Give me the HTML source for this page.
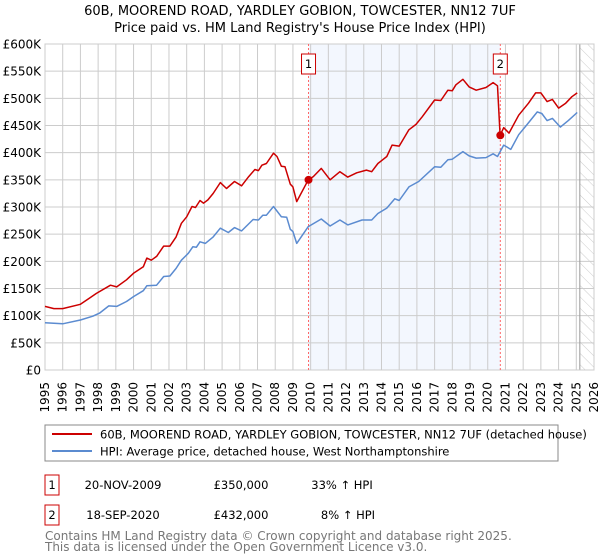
<!DOCTYPE html>
<html><head><meta charset="utf-8">
<style>
body{margin:0;background:#fff;}
svg{display:block;font-family:"DejaVu Sans","Liberation Sans",sans-serif;}
</style></head>
<body>
<svg id="chart" width="600" height="560" viewBox="0 0 600 560" xmlns="http://www.w3.org/2000/svg">
<defs>
<pattern id="hatch" width="8" height="8" patternUnits="userSpaceOnUse" patternTransform="rotate(-45)">
<line x1="0" y1="0" x2="0" y2="8" stroke="#ccc" stroke-width="1"/>
</pattern>
</defs>
<text x="300" y="15" text-anchor="middle" font-size="13" fill="#000">60B, MOOREND ROAD, YARDLEY GOBION, TOWCESTER, NN12 7UF</text>
<text x="300" y="32" text-anchor="middle" font-size="13" fill="#000">Price paid vs. HM Land Registry's House Price Index (HPI)</text>
<g id="plot"></g>
<g id="legend">
<rect x="45" y="425" width="513" height="36" fill="#fff" stroke="#888"/>
<line x1="52" y1="434" x2="92" y2="434" stroke="#cc0000" stroke-width="2"/>
<text x="100" y="438.5" font-size="11.5">60B, MOOREND ROAD, YARDLEY GOBION, TOWCESTER, NN12 7UF (detached house)</text>
<line x1="52" y1="451" x2="92" y2="451" stroke="#5b8bd0" stroke-width="2"/>
<text x="100" y="455.5" font-size="11.5">HPI: Average price, detached house, West Northamptonshire</text>
</g>
<g font-size="11.5">
<rect x="45" y="475" width="14" height="20" fill="#fff" stroke="#cc0000"/>
<text x="52" y="489" text-anchor="middle">1</text>
<text x="123" y="489" text-anchor="middle">20-NOV-2009</text>
<text x="241" y="489" text-anchor="middle">£350,000</text>
<text x="342" y="489" text-anchor="middle">33% ↑ HPI</text>
<rect x="45" y="505" width="14" height="20" fill="#fff" stroke="#cc0000"/>
<text x="52" y="519" text-anchor="middle">2</text>
<text x="123" y="519" text-anchor="middle">18-SEP-2020</text>
<text x="241" y="519" text-anchor="middle">£432,000</text>
<text x="348" y="519" text-anchor="middle">8% ↑ HPI</text>
</g>
<text x="45" y="540" font-size="12" fill="#777">Contains HM Land Registry data © Crown copyright and database right 2025.</text>
<text x="45" y="551" font-size="12" fill="#777">This data is licensed under the Open Government Licence v3.0.</text>
</svg>
<script>
const yTicks=[0,50,100,150,200,250,300,350,400,450,500,550,600];
const yTickLabels=["£0","£50K","£100K","£150K","£200K","£250K","£300K","£350K","£400K","£450K","£500K","£550K","£600K"];
const years=[1995,1996,1997,1998,1999,2000,2001,2002,2003,2004,2005,2006,2007,2008,2009,2010,2011,2012,2013,2014,2015,2016,2017,2018,2019,2020,2021,2022,2023,2024,2025,2026];
const propT=[1995.0,1995.5,1996.0,1997.0,1997.5,1997.9,1998.7,1999.05,1999.6,2000.0,2000.55,2000.75,2001.0,2001.3,2001.7,2002.05,2002.4,2002.7,2003.0,2003.3,2003.5,2003.75,2003.95,2004.2,2004.5,2004.9,2005.25,2005.7,2006.1,2006.5,2006.85,2007.05,2007.25,2007.5,2007.9,2008.1,2008.35,2008.55,2008.85,2009.0,2009.21,2009.87,2010.15,2010.6,2011.1,2011.65,2012.1,2012.6,2013.15,2013.45,2013.8,2014.3,2014.6,2015.0,2015.55,2015.95,2016.3,2017.0,2017.35,2017.75,2018.0,2018.2,2018.6,2018.95,2019.35,2019.9,2020.3,2020.55,2020.7,2020.9,2021.2,2021.75,2022.3,2022.7,2023.0,2023.35,2023.65,2024.0,2024.4,2024.75,2025.05];
const propV=[117,113,113,121,132,141,156,153,166,178,190,206,202,209,228,228,245,270,282,301,299,312,307,313,325,345,334,347,339,356,369,367,377,380,399,393,375,374,342,337,310,350,356,371,350,365,355,363,368,365,380,393,414,412,442,452,466,497,496,515,514,525,535,521,515,520,529,523,432,446,436,469,491,510,510,494,498,482,491,503,510];
const hpiT=[1995,1996,1997,1997.7,1998.1,1998.6,1999.05,1999.6,2000,2000.55,2000.75,2001.3,2001.7,2002.05,2002.4,2002.7,2003.1,2003.35,2003.55,2003.75,2004.05,2004.5,2004.9,2005.35,2005.7,2006.1,2006.75,2007.05,2007.3,2007.5,2007.9,2008.35,2008.65,2008.85,2009.0,2009.21,2009.87,2010.6,2011.1,2011.65,2012.1,2012.9,2013.45,2013.8,2014.3,2014.75,2015.0,2015.55,2016.1,2017.0,2017.35,2017.75,2018.0,2018.6,2018.95,2019.35,2019.9,2020.3,2020.55,2020.9,2021.3,2021.75,2022.2,2022.8,2023.05,2023.35,2023.65,2024.1,2024.55,2025.05];
const hpiV=[87,85,92,99,105,118,117,126,135,146,155,156,172,173,187,202,215,227,226,236,233,245,261,253,262,256,277,276,285,285,301,282,281,259,255,233,264,278,265,276,267,276,276,288,298,315,312,337,347,374,373,387,388,402,394,390,391,398,393,414,406,433,451,475,472,459,463,447,459,474];
const saleT=[2009.88,2020.71];
const saleV=[350,432];
const saleLabels=["1","2"];
const forecastStart=2025.2;

const L=45,R=594,T=44,B=370;
const X0=1995,X1=2026,Y1=600;
const sx=t=>L+(t-X0)/(X1-X0)*(R-L);
const sy=v=>B-v/Y1*(B-T);
const NS="http://www.w3.org/2000/svg";
const g=document.getElementById('plot');
function mk(tag,attrs,parent){const e=document.createElementNS(NS,tag);for(const k in attrs)e.setAttribute(k,attrs[k]);(parent||g).appendChild(e);return e;}

// shaded region between sales
const sh=mk('rect',{x:sx(saleT[0]),y:T,width:sx(saleT[1])-sx(saleT[0]),height:B-T,fill:'#eef3fd',opacity:0.7});


// forecast hatch
const hz=mk('rect',{x:sx(forecastStart),y:T,width:R-sx(forecastStart),height:B-T,fill:'url(#hatch)'});


// grid
years.forEach(y=>{
  const l=mk('line',{x1:sx(y),x2:sx(y),y1:T,y2:B,stroke:'#cccccc','stroke-width':1});
  
  
  const t=mk('text',{x:0,y:0,'font-size':12,'text-anchor':'end',transform:`translate(${sx(y)+4},${B+12}) rotate(-90)`});
  t.textContent=String(y);
  
  
});
yTicks.forEach((v,i)=>{
  const l=mk('line',{x1:L,x2:R,y1:sy(v),y2:sy(v),stroke:'#cccccc','stroke-width':1});
  
  
  const t=mk('text',{x:L-4,y:sy(v)+4.5,'font-size':12,'text-anchor':'end'});
  t.textContent=yTickLabels[i];
  
  
});
const fl=mk('line',{x1:sx(forecastStart),x2:sx(forecastStart),y1:T,y2:B,stroke:'#999','stroke-width':1});


const fr=mk('rect',{x:L,y:T,width:R-L,height:B-T,fill:'none',stroke:'#cccccc'});


// sale vlines
saleT.forEach((t,i)=>{
  const l=mk('line',{x1:sx(t),x2:sx(t),y1:T,y2:B,stroke:'#ff6666','stroke-width':1,'stroke-dasharray':'2,2'});
  
  
});
// series
const pts=(ts,vs)=>ts.map((t,i)=>sx(t).toFixed(1)+','+sy(vs[i]).toFixed(1)).join(' ');
const hp=mk('polyline',{points:pts(hpiT,hpiV),fill:'none',stroke:'#5b8bd0','stroke-width':1.5,'stroke-linejoin':'round'});


const pp=mk('polyline',{points:pts(propT,propV),fill:'none',stroke:'#cc0000','stroke-width':1.5,'stroke-linejoin':'round'});


saleT.forEach((t,i)=>{
  const c=mk('circle',{cx:sx(t),cy:sy(saleV[i]),r:4,fill:'#cc0000'});
  
  
  const b=mk('rect',{x:sx(t)-7,y:54,width:14,height:20,fill:'#fff',stroke:'#cc0000'});
  
  
  const tx=mk('text',{x:sx(t),y:68,'font-size':11.5,'text-anchor':'middle'});
  tx.textContent=saleLabels[i];
  
  
});
</script>
</body></html>
